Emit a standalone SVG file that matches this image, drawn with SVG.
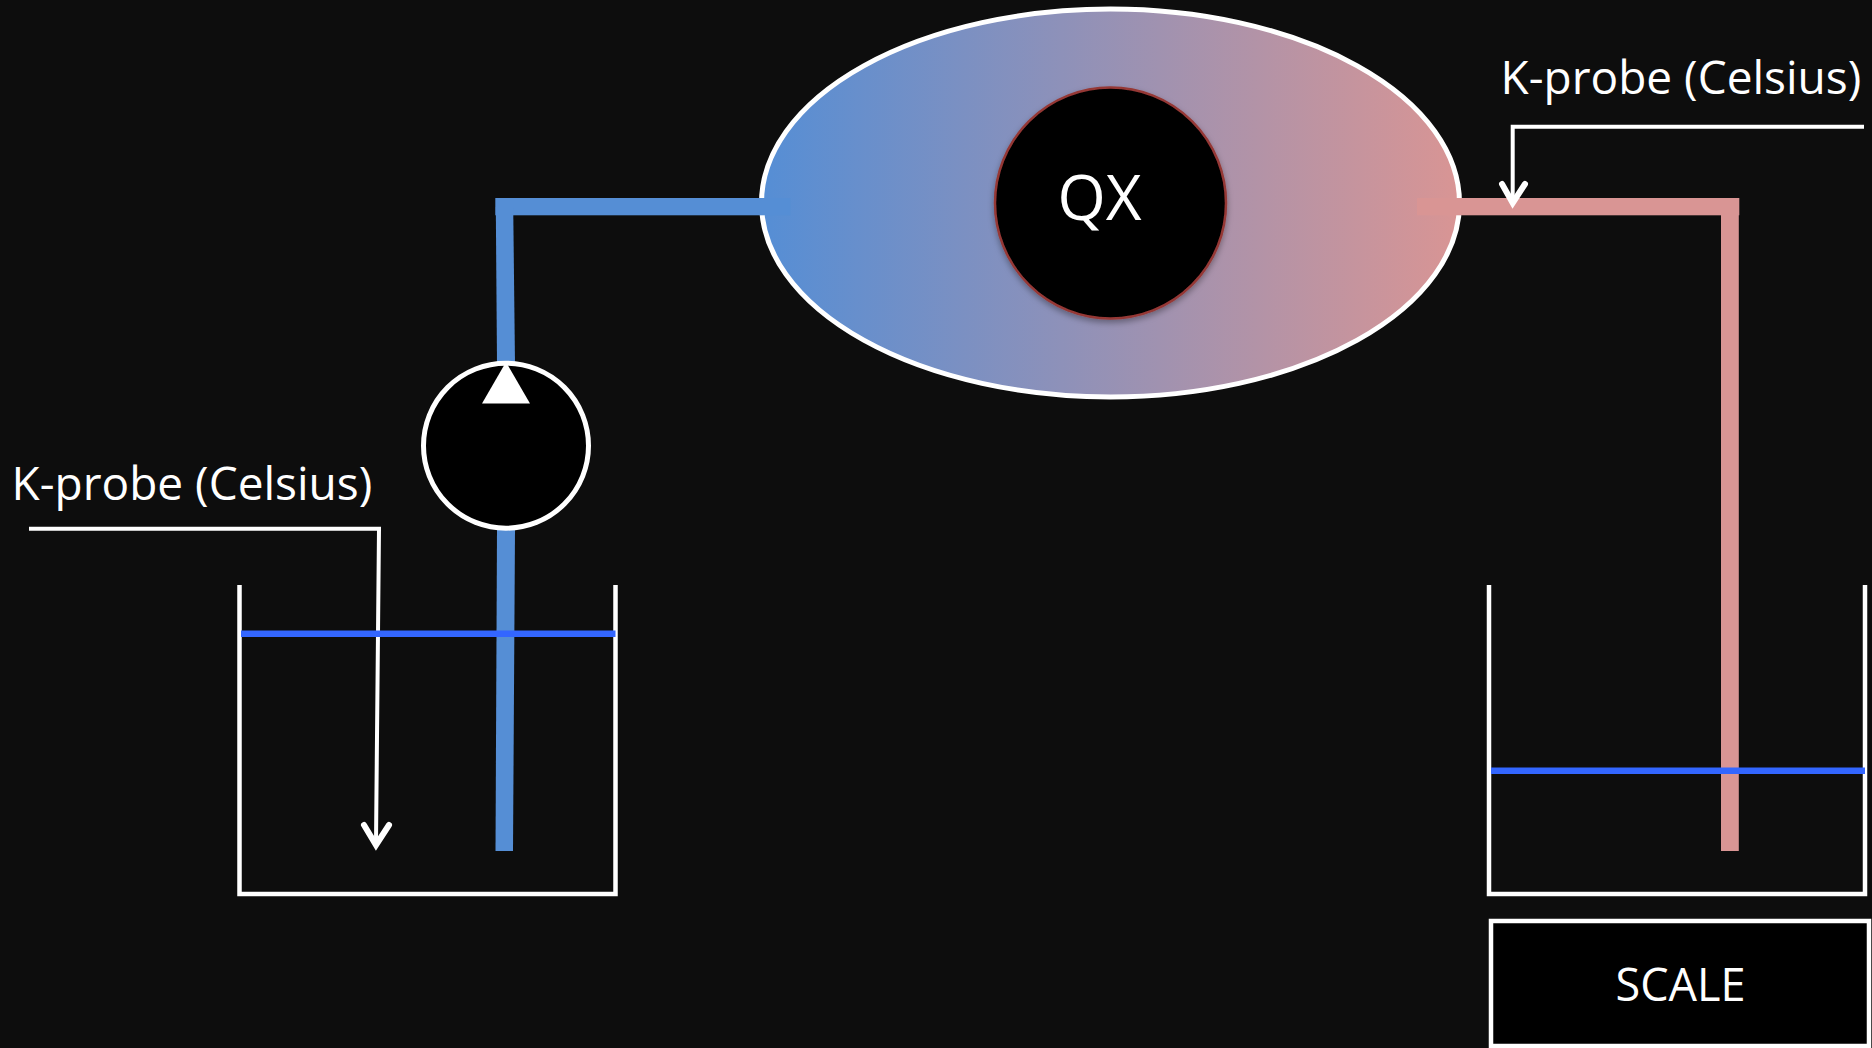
<svg xmlns="http://www.w3.org/2000/svg" width="1872" height="1048" viewBox="0 0 1872 1048">
  <style>
    .wire{fill:none;stroke:#fff;stroke-width:4}
    .beaker{fill:none;stroke:#fff;stroke-width:4.5;stroke-linejoin:miter}
    .water{stroke:#3366ff;stroke-width:6.5;fill:none}
    .blue{fill:#558ed5}
    .red{fill:#d99594}
    .head{fill:none;stroke:#fff;stroke-width:6;stroke-linecap:round;stroke-linejoin:miter;stroke-miterlimit:8}
    text{fill:#fff;font-family:"Open Sans","Noto Sans","Liberation Sans",sans-serif;font-weight:400}
    .lbl{font-size:46px}
  </style>
  <defs>
    <linearGradient id="body" x1="0" y1="0" x2="1" y2="0">
      <stop offset="0" stop-color="#558ed5"/>
      <stop offset="1" stop-color="#d99594"/>
    </linearGradient>
    <filter id="soft" x="-10%" y="-10%" width="120%" height="120%">
      <feDropShadow dx="0" dy="3" stdDeviation="3" flood-color="#000" flood-opacity="0.35"/>
    </filter>
  </defs>
  <rect id="background" width="1872" height="1048" fill="#0d0d0d"/>

  <g id="exchanger">
    <ellipse cx="1110.5" cy="203" rx="349" ry="194" fill="url(#body)" stroke="#fff" stroke-width="5"/>
  </g>

  <g id="connectors">
    <rect class="blue" x="495.3" y="198" width="295" height="17.3"/>
    <polygon class="blue" points="495.8,207 513.2,207 515,364 497,364"/>
    <polygon class="blue" points="497,529 515,529 513,851 495.5,851"/>
    <rect class="red" x="1417" y="198" width="322.3" height="17.3"/>
    <rect class="red" x="1721" y="207" width="17.8" height="644"/>
    <path class="wire" d="M1864 126.700H1512.700V200"/>
    <path class="head" d="M1502 184L1512.700 203L1525 184"/>
    <path class="wire" d="M29 528.700H379L376 842"/>
    <path class="head" d="M364 825L376 845L389 825"/>
  </g>

  <g id="qx">
    <circle cx="1110.500" cy="203" r="115.500" fill="#000" stroke="#953735" stroke-width="2.500" filter="url(#soft)"/>
    <text x="1099.500" y="220" text-anchor="middle" font-size="62">QX</text>
  </g>

  <g id="pump">
    <circle cx="506" cy="445.700" r="82.500" fill="#000" stroke="#fff" stroke-width="5"/>
    <polygon points="506,362 482,403.500 530,403.500" fill="#fff"/>
  </g>

  <g id="probe-right">
    <text class="lbl" x="1500.600" y="94">K-probe (Celsius)</text>
  </g>
  <g id="probe-left">
    <text class="lbl" x="11.600" y="500">K-probe (Celsius)</text>
  </g>

  <g id="tank-left">
    <path class="beaker" d="M239.500 585V894H615.500V585"/>
    <path class="water" d="M241 633.700H615.500"/>
  </g>
  <g id="tank-right">
    <path class="beaker" d="M1489 585V894H1865V585"/>
    <path class="water" d="M1491 770.700H1865"/>
  </g>

  <g id="scale">
    <rect x="1491" y="921" width="378" height="125" fill="#000" stroke="#fff" stroke-width="4.500"/>
    <text x="1680.500" y="1001" text-anchor="middle" font-size="45">SCALE</text>
  </g>
</svg>
